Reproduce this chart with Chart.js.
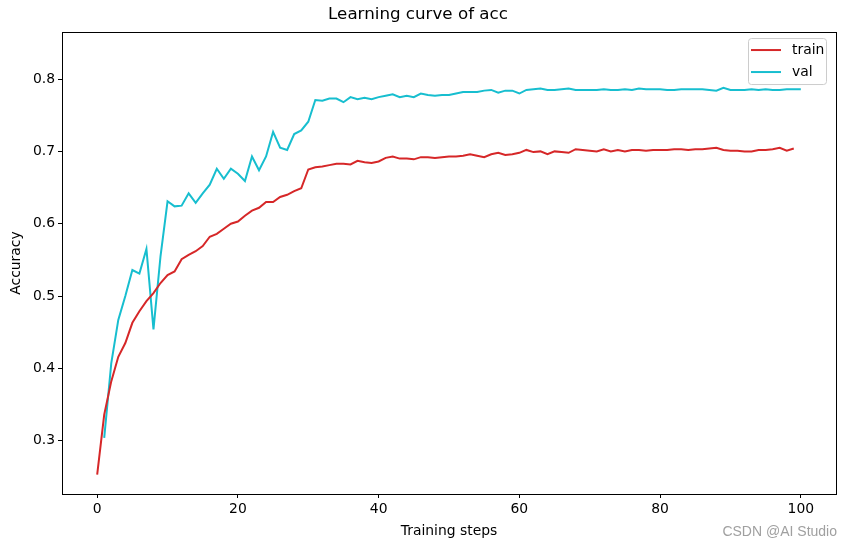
<!DOCTYPE html>
<html>
<head>
<meta charset="utf-8">
<script src="https://cdn.jsdelivr.net/npm/chart.js@4.4.0/dist/chart.umd.min.js"></script>
<style>
html,body{margin:0;padding:0;background:#fff;}
#wrap{position:relative;width:849px;height:547px;}
#mark{position:absolute;right:12px;top:523px;font:14px "Liberation Sans",Arial,sans-serif;color:#a0a0a0;}
</style>
</head>
<body>
<div id="wrap">
<canvas id="chart" width="849" height="547"></canvas>
<div id="mark">CSDN @AI Studio</div>
</div>
<script>
// accuracy per training step
const trainSteps=[...Array(100).keys()];           // 0..99
const valSteps=trainSteps.map(i=>i+1);            // 1..100

const trainAcc=[
0.253,0.336,0.382,0.416,0.435,0.463,0.479,0.493,0.504,0.518,
0.529,0.534,0.551,0.557,0.562,0.569,0.582,0.586,0.593,0.600,
0.603,0.611,0.618,0.622,0.630,0.630,0.637,0.640,0.645,0.649,
0.675,0.678,0.679,0.681,0.683,0.683,0.682,0.687,0.685,0.684,
0.686,0.691,0.693,0.690,0.690,0.689,0.692,0.692,0.691,0.692,
0.693,0.693,0.694,0.696,0.694,0.692,0.696,0.698,0.695,0.696,
0.698,0.702,0.699,0.700,0.696,0.700,0.699,0.698,0.703,0.702,
0.701,0.700,0.703,0.700,0.702,0.700,0.702,0.702,0.701,0.702,
0.702,0.702,0.703,0.703,0.702,0.703,0.703,0.704,0.705,0.702,
0.701,0.701,0.700,0.700,0.702,0.702,0.703,0.705,0.701,0.704];

const valAcc=[
0.304,0.407,0.467,0.500,0.536,0.531,0.565,0.454,0.555,0.631,
0.624,0.625,0.642,0.629,0.642,0.654,0.676,0.662,0.676,0.669,
0.659,0.693,0.674,0.693,0.727,0.705,0.702,0.724,0.729,0.741,
0.771,0.770,0.773,0.773,0.768,0.775,0.772,0.774,0.772,0.775,
0.777,0.779,0.775,0.777,0.775,0.780,0.778,0.777,0.778,0.778,
0.780,0.782,0.782,0.782,0.784,0.785,0.781,0.784,0.784,0.780,
0.785,0.786,0.787,0.785,0.785,0.786,0.787,0.785,0.785,0.785,
0.785,0.786,0.785,0.785,0.786,0.785,0.787,0.786,0.786,0.786,
0.785,0.785,0.786,0.786,0.786,0.786,0.785,0.784,0.788,0.785,
0.785,0.785,0.786,0.785,0.786,0.785,0.785,0.786,0.786,0.786];

const xTicks=[0,20,40,60,80,100];
const yTicks=[0.3,0.4,0.5,0.6,0.7,0.8];

const font="'DejaVu Sans', sans-serif";

// full box around the plot + matplotlib-ish legend
const frame={
    id:"frame",
    afterDraw(chart){
        const c=chart.ctx, a=chart.chartArea;
        c.save();
        c.strokeStyle="#000";
        c.lineWidth=1;
        c.strokeRect(Math.round(a.left)+0.5,Math.round(a.top)+0.5,Math.round(a.right-a.left),Math.round(a.bottom-a.top));

        // legend
        const x=a.right-88, y=a.top+6, w=78, h=46;
        c.fillStyle="rgba(255,255,255,0.8)";
        c.strokeStyle="#cccccc";
        c.beginPath();
        c.roundRect(x+0.5,y+0.5,w,h,3);
        c.fill();c.stroke();
        c.font="13.9px "+font;
        c.textBaseline="middle";
        chart.data.datasets.forEach((ds,i)=>{
            const ly=y+12+i*22;
            c.strokeStyle=ds.borderColor;
            c.lineWidth=2;
            c.beginPath();c.moveTo(x+3,ly);c.lineTo(x+33,ly);c.stroke();
            c.fillStyle="#000";
            c.fillText(ds.label,x+44,ly);
        });
        c.restore();
    }
};

new Chart(document.getElementById("chart"),{
    type:"line",
    data:{
        datasets:[
            {label:"train",data:trainSteps.map((s,i)=>({x:s,y:trainAcc[i]})),borderColor:"#d62728",borderWidth:2,pointRadius:0,tension:0},
            {label:"val",data:valSteps.map((s,i)=>({x:s,y:valAcc[i]})),borderColor:"#17becf",borderWidth:2,pointRadius:0,tension:0}
        ]
    },
    options:{
        responsive:false,
        animation:false,
        layout:{padding:{left:0,right:13,top:0,bottom:0}},
        plugins:{
            legend:{display:false},
            tooltip:{enabled:false},
            title:{display:true,text:"Learning curve of acc",color:"#000",font:{family:font,size:16.7,weight:"normal"},padding:{top:5,bottom:7}}
        },
        scales:{
            x:{
                type:"linear",min:-5,max:105,
                afterFit(s){s.height=53;},
                afterBuildTicks(s){s.ticks=xTicks.map(v=>({value:v}));},
                grid:{drawOnChartArea:false,drawTicks:true,tickLength:4,color:"#000"},
                border:{display:true,color:"#000"},
                ticks:{color:"#000",font:{family:font,size:13.9},padding:3,maxRotation:0,autoSkip:false},
                title:{display:true,text:"Training steps",color:"#000",font:{family:font,size:13.9},padding:{top:0,bottom:7}}
            },
            y:{
                type:"linear",min:0.2263,max:0.865,
                afterFit(s){s.width=62;},
                afterBuildTicks(s){s.ticks=yTicks.map(v=>({value:v}));},
                grid:{drawOnChartArea:false,drawTicks:true,tickLength:4,color:"#000"},
                border:{display:true,color:"#000"},
                ticks:{color:"#000",font:{family:font,size:13.9},padding:3,autoSkip:false,callback:v=>v.toFixed(1)},
                title:{display:true,text:"Accuracy",color:"#000",font:{family:font,size:13.9},padding:{top:8,bottom:0}}
            }
        }
    },
    plugins:[frame]
});
</script>
</body>
</html>
